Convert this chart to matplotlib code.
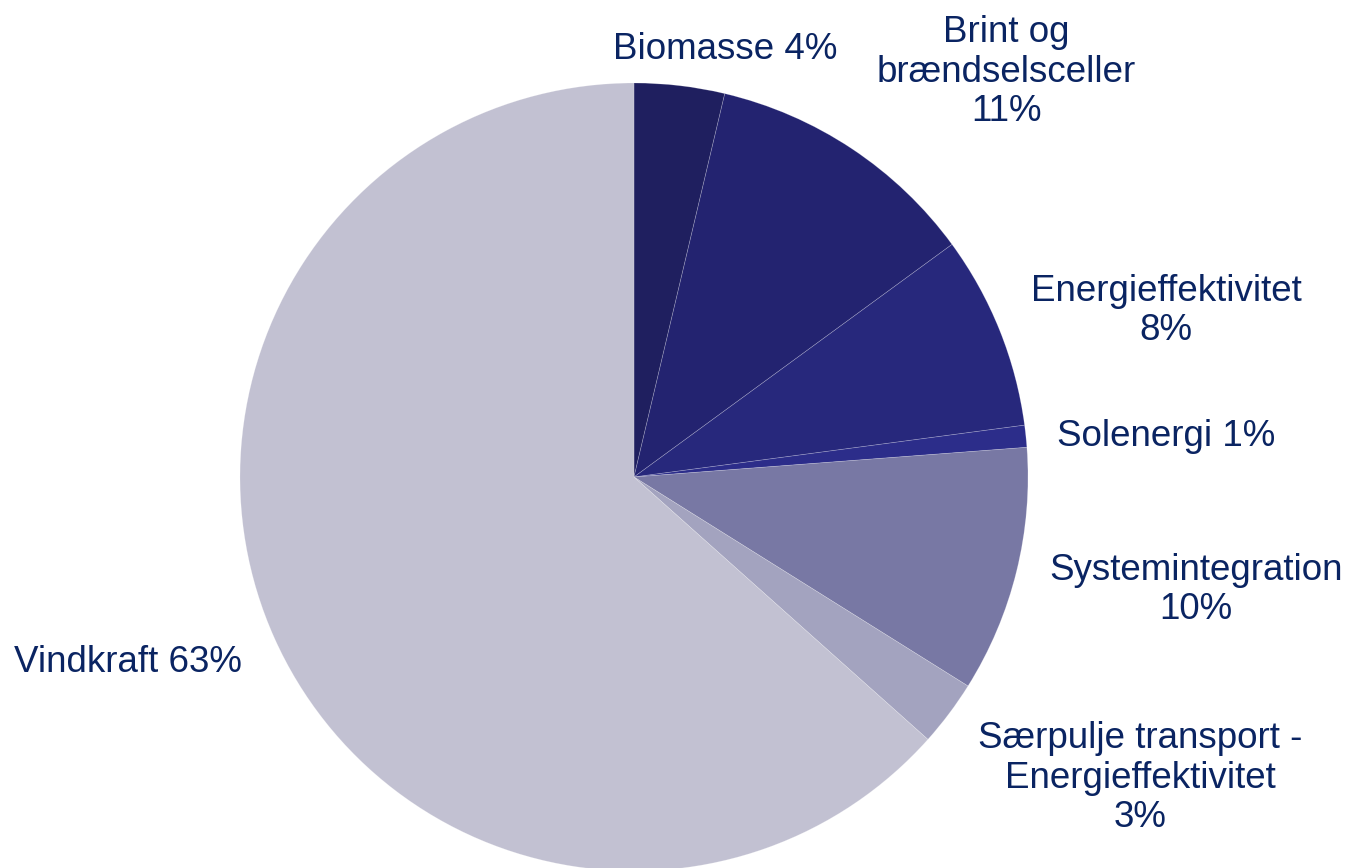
import matplotlib.pyplot as plt

# andele (%), med uret fra kl. 12
names = ['Biomasse', 'Brint og\nbrændselsceller', 'Energieffektivitet', 'Solenergi',
         'Systemintegration', 'Særpulje transport -\nEnergieffektivitet', 'Vindkraft']
shares = [3.7, 11.25, 7.95, 0.9, 10.1, 2.7, 63.4]
seps = [' ', '\n', '\n', ' ', '\n', '\n', ' ']
colors = ['#1f1f5f', '#232370', '#27287c', '#2c2d8a', '#7878a4', '#a3a3bf', '#c2c1d2']

# labelplacering i pixel (midtpunkt af tekstblok)
label_px = [(725, 50), (1006, 72), (1166, 311), (1166, 437),
            (1196, 590), (1140, 778), (128, 662)]

W, H = 1349, 868
cx, cy, R = 634, 477, 394

plt.rcParams['font.family'] = ['Liberation Sans', 'DejaVu Sans']
fig = plt.figure(figsize=(W / 100, H / 100), dpi=100)
ax = fig.add_axes([0, 0, 1, 1])

ax.pie(shares, colors=colors, startangle=90, counterclock=False, radius=1,
       wedgeprops=dict(edgecolor='#ffffff40', linewidth=0.5))

ax.set_xlim(-cx / R, (W - cx) / R)
ax.set_ylim(-(H - cy) / R, cy / R)
ax.set_aspect('auto')
ax.axis('off')

for name, v, s, (px, py) in zip(names, shares, seps, label_px):
    ax.text((px - cx) / R, (cy - py) / R, f'{name}{s}{v:.0f}%',
            ha='center', va='center', multialignment='center',
            fontsize=26.5, color='#0a2462', linespacing=1.17)

fig.savefig('out.png', dpi=100)
